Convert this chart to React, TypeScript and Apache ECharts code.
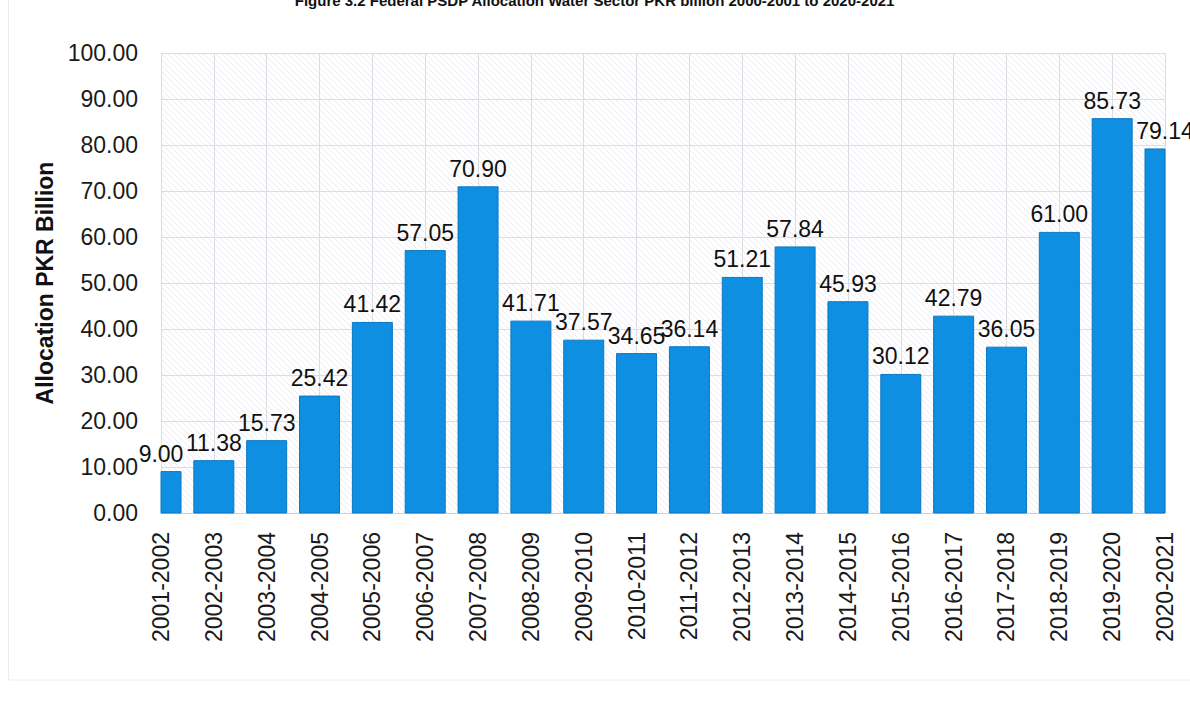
import React, { useEffect, useRef } from "react";
import * as echarts from "echarts";

const categories = [
  "2001-2002", "2002-2003", "2003-2004", "2004-2005", "2005-2006",
  "2006-2007", "2007-2008", "2008-2009", "2009-2010", "2010-2011",
  "2011-2012", "2012-2013", "2013-2014", "2014-2015", "2015-2016",
  "2016-2017", "2017-2018", "2018-2019", "2019-2020", "2020-2021",
];

const allocation = [
  9.0, 11.38, 15.73, 25.42, 41.42, 57.05, 70.9, 41.71, 37.57, 34.65,
  36.14, 51.21, 57.84, 45.93, 30.12, 42.79, 36.05, 61.0, 85.73, 79.14,
];

const yTicks = { min: 0, max: 100, interval: 10 };

const titleText =
  "Figure 3.2 Federal PSDP Allocation Water Sector PKR billion 2000-2001 to 2020-2021";
const yAxisName = "Allocation PKR Billion";

const FONT = "'Liberation Sans', Arial, sans-serif";
const BAR_WIDTH = 40;

const hatchSvg =
  "data:image/svg+xml;charset=utf-8," +
  encodeURIComponent(
    '<svg xmlns="http://www.w3.org/2000/svg" width="6" height="6">' +
      '<rect width="6" height="6" fill="#ffffff"/>' +
      '<path d="M0 0L6 6M-1 5L1 7M5 -1L7 1" stroke="#ececf0" stroke-width="1"/>' +
      "</svg>"
  );

export default function App() {
  const ref = useRef<HTMLDivElement>(null);

  useEffect(() => {
    if (!ref.current) return;
    const chart = echarts.init(ref.current, null, { renderer: "svg" });
    const barData = allocation.map((v, i) => [i, v]);
    chart.setOption({
      animation: false,
      backgroundColor: "#ffffff",
      textStyle: { fontFamily: FONT },
      graphic: [
        {
          type: "rect",
          silent: true,
          shape: { x: 8.5, y: -2, width: 1200, height: 682 },
          style: { fill: "none", stroke: "#ececf0", lineWidth: 1 },
          z: -1,
        },
        {
          type: "text",
          left: "center",
          top: -7,
          silent: true,
          style: {
            text: titleText,
            font: `bold 15px ${FONT}`,
            fill: "#111",
          },
        },
      ],
      grid: {
        left: 161,
        right: 25,
        top: 53,
        bottom: 188,
        show: true,
        borderWidth: 0,
        backgroundColor: {
          image: hatchSvg,
          repeat: "repeat",
          imageWidth: 6,
          imageHeight: 6,
        } as any,
      },
      xAxis: {
        type: "category",
        data: categories,
        boundaryGap: false,
        axisLine: { show: true, lineStyle: { color: "#c8d2de", width: 1 } },
        axisTick: { show: false },
        axisLabel: {
          rotate: 90,
          interval: 0,
          margin: 19,
          fontSize: 23,
          color: "#1a1a1a",
          fontFamily: FONT,
        },
        splitLine: { show: true, lineStyle: { color: "#dcdce2", width: 1 } },
      },
      yAxis: {
        type: "value",
        min: yTicks.min,
        max: yTicks.max,
        interval: yTicks.interval,
        name: yAxisName,
        nameLocation: "middle",
        nameGap: 105,
        nameRotate: 90,
        nameTextStyle: {
          fontSize: 23,
          fontWeight: "bold",
          color: "#111",
          fontFamily: FONT,
        },
        axisLine: { show: true, lineStyle: { color: "#dcdce2" } },
        axisTick: { show: false },
        axisLabel: {
          margin: 23,
          fontSize: 23,
          color: "#1a1a1a",
          fontFamily: FONT,
          formatter: (v: number) => v.toFixed(2),
        },
        splitLine: { show: true, lineStyle: { color: "#dcdce2", width: 1 } },
      },
      series: [
        {
          type: "custom",
          data: barData,
          encode: { x: 0, y: 1 },
          z: 2,
          renderItem: (params: any, api: any) => {
            const idx = api.value(0);
            const val = api.value(1);
            const top = api.coord([idx, val]);
            const base = api.coord([idx, 0]);
            const cs = params.coordSys;
            const x0 = Math.max(top[0] - BAR_WIDTH / 2, cs.x);
            const x1 = Math.min(top[0] + BAR_WIDTH / 2, cs.x + cs.width);
            return {
              type: "rect",
              shape: { x: x0, y: top[1], width: x1 - x0, height: base[1] - top[1] },
              style: { fill: "#0f8fe2", stroke: "#0b78c4", lineWidth: 1 },
            };
          },
        },
        {
          type: "scatter",
          data: allocation,
          symbolSize: 1,
          itemStyle: { color: "rgba(0,0,0,0)" },
          silent: true,
          z: 5,
          label: {
            show: true,
            position: "top",
            distance: 6,
            fontSize: 23,
            color: "#111111",
            opacity: 1,
            fontFamily: FONT,
            formatter: (p: any) => Number(p.value).toFixed(2),
          },
        },
      ],
    });
    return () => chart.dispose();
  }, []);

  return (
    <div
      ref={ref}
      style={{ position: "absolute", left: 0, top: 0, width: 1190, height: 701 }}
    />
  );
}
